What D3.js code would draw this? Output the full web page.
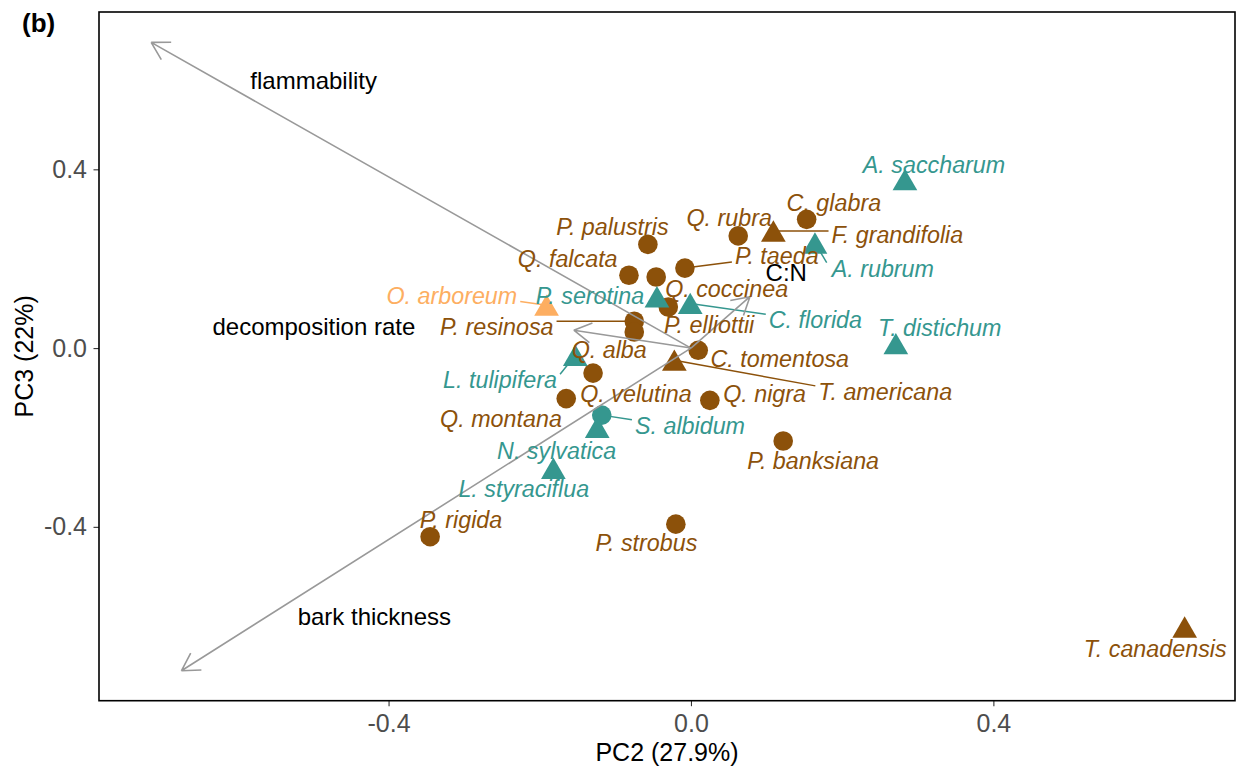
<!DOCTYPE html>
<html>
<head>
<meta charset="utf-8">
<script src="https://cdn.jsdelivr.net/npm/d3@7"></script>
<style>
  body { margin: 0; background: #fff; }
  text { font-family: 'Liberation Sans', Arial, sans-serif; }
</style>
</head>
<body>
<svg width="1238" height="769"></svg>
<script>
// species scores on PC2 / PC3
const species = ['A. saccharum', 'C. glabra', 'Q. rubra', 'F. grandifolia', 'P. palustris',
  'A. rubrum', 'P. taeda', 'Q. falcata', 'Q. coccinea', 'P. serotina', 'C. florida',
  'P. elliottii', 'O. arboreum', 'P. resinosa', 'Q. alba', 'C. tomentosa', 'T. americana',
  'L. tulipifera', 'Q. velutina', 'Q. montana', 'Q. nigra', 'S. albidum', 'N. sylvatica',
  'P. banksiana', 'L. styraciflua', 'P. rigida', 'P. strobus', 'T. canadensis', 'T. distichum'];
const pc2 = [0.283, 0.153, 0.0625, 0.109, -0.057,
  0.164, -0.008, -0.082, -0.046, -0.045, -0.001,
  -0.030, -0.191, -0.075, -0.075, 0.0096, -0.022,
  -0.153, -0.1295, -0.165, 0.025, -0.118, -0.124,
  0.122, -0.182, -0.345, -0.020, 0.653, 0.271];
const pc3 = [0.377, 0.288, 0.251, 0.262, 0.232,
  0.235, 0.179, 0.163, 0.159, 0.115, 0.100,
  0.092, 0.096, 0.060, 0.036, -0.005, -0.027,
  -0.016, -0.056, -0.113, -0.117, -0.150, -0.177,
  -0.208, -0.269, -0.422, -0.394, -0.624, 0.010];
// colour group (0 brown, 1 teal, 2 orange) and shape
const group = [1, 0, 0, 0, 0, 1, 0, 0, 0, 1, 1, 0, 2, 0, 0, 0, 0, 1, 0, 0, 0, 1, 1, 0, 1, 0, 0, 0, 1];
const shape = ['tri', 'circ', 'circ', 'tri', 'circ', 'tri', 'circ', 'circ', 'circ', 'tri', 'tri',
  'circ', 'tri', 'circ', 'circ', 'circ', 'tri', 'tri', 'circ', 'circ', 'circ', 'circ', 'tri',
  'circ', 'tri', 'circ', 'circ', 'tri', 'tri'];

// repelled label centres (data units) and which get a leader segment
const labelPc2 = [0.3215, 0.189, 0.0505, 0.273, -0.1038,
  0.2538, 0.1135, -0.163, 0.0472, -0.1336, 0.1646,
  0.0241, -0.3163, -0.2569, -0.1081, 0.1174, 0.257,
  -0.2525, -0.0728, -0.2513, 0.0974, -0.0013, -0.1777,
  0.1617, -0.2211, -0.3041, -0.0589, 0.614, 0.3291];
const labelPc3 = [0.409, 0.326, 0.292, 0.2525, 0.271,
  0.178, 0.206, 0.199, 0.133, 0.118, 0.0624,
  0.0512, 0.1176, 0.0474, -0.003, -0.0248, -0.098,
  -0.0718, -0.1015, -0.1575, -0.1015, -0.174, -0.2306,
  -0.253, -0.3156, -0.3834, -0.4357, -0.6723, 0.0452];
const linked = ['F. grandifolia', 'A. rubrum', 'P. taeda', 'C. florida', 'O. arboreum',
  'P. resinosa', 'T. americana', 'L. tulipifera', 'S. albidum'];

// trait loadings
const traits = ['flammability', 'decomposition rate', 'bark thickness', 'C:N'];
const traitPc2 = [-0.714, -0.155, -0.674, 0.078];
const traitPc3 = [0.684, 0.040, -0.722, 0.115];
const traitLabelPc2 = [-0.499, -0.4988, -0.4188, 0.126];
const traitLabelPc3 = [0.599, 0.049, -0.601, 0.169];

const xTicks = [-0.4, 0, 0.4];
const yTicks = [-0.4, 0, 0.4];

const colours = ['#8c510a', '#35978f', '#fdae61'];

const margin = { top: 12, right: 3, bottom: 68.3, left: 99 };
const width = 1238 - margin.left - margin.right;
const height = 769 - margin.top - margin.bottom;

const svg = d3.select('svg');

const x = d3.scaleLinear().domain([-0.783, 0.7196]).range([0, width]);
const y = d3.scaleLinear().domain([-0.789, 0.752]).range([height, 0]);

const chart = svg.append('g')
  .attr('transform', `translate(${margin.left}, ${margin.top})`);

// axes
const fmt = d => d.toFixed(1);
const xAxis = chart.append('g')
  .attr('transform', `translate(0, ${height})`)
  .call(d3.axisBottom(x).tickValues(xTicks).tickFormat(fmt).tickSize(5.5).tickPadding(8.5));
const yAxis = chart.append('g')
  .call(d3.axisLeft(y).tickValues(yTicks).tickFormat(fmt).tickSize(5.5).tickPadding(6.5));
[xAxis, yAxis].forEach(a => {
  a.select('.domain').remove();
  a.selectAll('line').attr('stroke', '#333').attr('stroke-width', 1.1);
  a.selectAll('text').attr('fill', '#4d4d4d').attr('font-size', 25)
    .style('font-family', "'Liberation Sans', Arial, sans-serif");
});

chart.append('rect')
  .attr('width', width)
  .attr('height', height)
  .attr('fill', 'none')
  .attr('stroke', '#000')
  .attr('stroke-width', 1.6);

// axis titles
svg.append('text')
  .attr('x', margin.left + width / 2)
  .attr('y', 761)
  .attr('text-anchor', 'middle')
  .attr('font-size', 25)
  .text('PC2 (27.9%)');

svg.append('text')
  .attr('transform', `translate(33, ${margin.top + height / 2}) rotate(-90)`)
  .attr('text-anchor', 'middle')
  .attr('font-size', 25)
  .text('PC3 (22%)');

svg.append('text')
  .attr('x', 22)
  .attr('y', 32)
  .attr('font-size', 26)
  .attr('font-weight', 'bold')
  .text('(b)');

const pts = species.map((name, i) => ({
  name, px: pc2[i], py: pc3[i], g: group[i], shape: shape[i],
  lx: labelPc2[i], ly: labelPc3[i], seg: linked.includes(name)
}));

const segLayer = chart.append('g');
const pointLayer = chart.append('g');
const arrowLayer = chart.append('g');
const labelLayer = chart.append('g');

// points
const triSize = 264;
const triShift = Math.sqrt(triSize / (3 * Math.sqrt(3))) / 2;
pointLayer.selectAll('circle')
  .data(pts.filter(d => d.shape === 'circ'))
  .enter()
  .append('circle')
  .attr('cx', d => x(d.px))
  .attr('cy', d => y(d.py))
  .attr('r', 9.8)
  .attr('fill', d => colours[d.g]);

pointLayer.selectAll('path')
  .data(pts.filter(d => d.shape === 'tri'))
  .enter()
  .append('path')
  .attr('d', d3.symbol(d3.symbolTriangle, triSize))
  .attr('transform', d => `translate(${x(d.px)}, ${y(d.py) + triShift})`)
  .attr('fill', d => colours[d.g]);

// trait arrows
const grey = '#999999';
traits.forEach((t, i) => {
  const x0 = x(0), y0 = y(0);
  const x1 = x(traitPc2[i]), y1 = y(traitPc3[i]);
  const ang = Math.atan2(y1 - y0, x1 - x0);
  const len = 20;
  const head = [ang + Math.PI - Math.PI / 6, ang + Math.PI + Math.PI / 6];
  const path = d3.path();
  path.moveTo(x0, y0);
  path.lineTo(x1, y1);
  head.forEach(a => {
    path.moveTo(x1 + len * Math.cos(a), y1 + len * Math.sin(a));
    path.lineTo(x1, y1);
  });
  arrowLayer.append('path')
    .attr('d', path.toString())
    .attr('fill', 'none')
    .attr('stroke', grey)
    .attr('stroke-width', 1.6);

  labelLayer.append('text')
    .attr('x', x(traitLabelPc2[i]))
    .attr('y', y(traitLabelPc3[i]))
    .attr('dy', '0.35em')
    .attr('text-anchor', 'middle')
    .attr('font-size', 24)
    .attr('fill', '#000')
    .text(t);
});

// species labels
const labels = labelLayer.selectAll('text.sp')
  .data(pts)
  .enter()
  .append('text')
  .attr('class', 'sp')
  .attr('x', d => x(d.lx))
  .attr('y', d => y(d.ly))
  .attr('dy', '0.35em')
  .attr('text-anchor', 'middle')
  .attr('font-size', 23.3)
  .attr('font-style', 'italic')
  .attr('fill', d => colours[d.g])
  .text(d => d.name);

// leader segments to the nearest edge of the label box
labels.filter(d => d.seg).each(function (d) {
  const b = this.getBBox();
  const cy = y(d.ly);
  const bx0 = b.x - 3, bx1 = b.x + b.width + 3;
  const by0 = cy - 6, by1 = cy + 6;
  const sx = x(d.px), sy = y(d.py);
  const ex = Math.max(bx0, Math.min(sx, bx1));
  const ey = Math.max(by0, Math.min(sy, by1));
  segLayer.append('line')
    .attr('x1', sx)
    .attr('y1', sy)
    .attr('x2', ex)
    .attr('y2', ey)
    .attr('stroke', colours[d.g])
    .attr('stroke-width', 1.5);
});
</script>
</body>
</html>
